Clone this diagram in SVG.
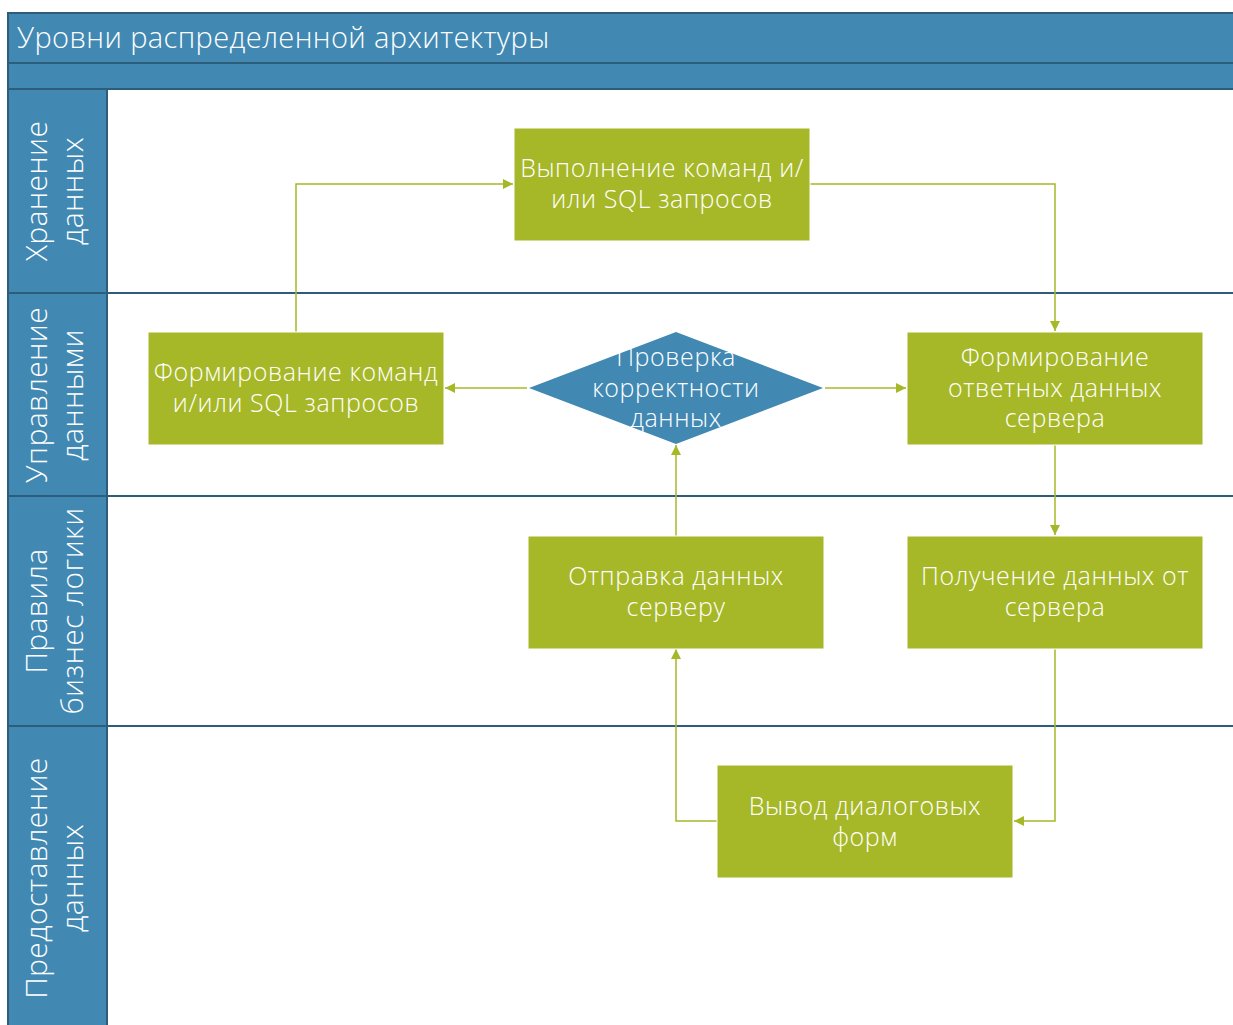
<svg xmlns="http://www.w3.org/2000/svg" width="1233" height="1025" viewBox="0 0 1233 1025">
<defs>
<style>
.band{fill:#4189B3;stroke:#2C5D7A;stroke-width:2}
.sep{stroke:#2C5D7A;stroke-width:2;fill:none}
.box{fill:#A6B828;stroke:#FFFFFF;stroke-width:1}
.dia{fill:#4189B3}
.t{font-family:"Open Sans","Noto Sans",sans-serif;fill:#FFFFFF;text-anchor:middle;font-weight:300}
.nt{font-size:25px;letter-spacing:0.6px}
.lt{font-size:30px;letter-spacing:0.4px}
.conn{fill:none;stroke:#A6B828;stroke-width:1.5}
</style>
<marker id="arr" viewBox="0 0 10 10" refX="10" refY="5" markerWidth="10" markerHeight="10" markerUnits="userSpaceOnUse" orient="auto">
<path d="M0,0 L10,5 L0,10 z" fill="#A6B828"/>
</marker>
</defs>
<rect width="1233" height="1025" fill="#FFFFFF"/>
<g id="frame">
<rect class="band" x="8" y="13" width="1235" height="50"/>
<rect class="band" x="8" y="63" width="1235" height="26"/>
<rect class="band" x="8" y="89" width="99" height="945"/>
<line class="sep" x1="8" y1="293" x2="1235" y2="293"/>
<line class="sep" x1="8" y1="496" x2="1235" y2="496"/>
<line class="sep" x1="8" y1="726" x2="1235" y2="726"/>
<text class="t" x="17" y="48" style="font-size:29px;letter-spacing:0.4px;text-anchor:start">Уровни распределенной архитектуры</text>
</g>
<g id="lane-labels">
<text class="t lt" transform="translate(47,191) rotate(-90)"><tspan x="0" y="0">Хранение</tspan><tspan x="0" y="36">данных</tspan></text>
<text class="t lt" transform="translate(47,395) rotate(-90)"><tspan x="0" y="0">Управление</tspan><tspan x="0" y="36">данными</tspan></text>
<text class="t lt" transform="translate(47,611) rotate(-90)"><tspan x="0" y="0">Правила</tspan><tspan x="0" y="36">бизнес логики</tspan></text>
<text class="t lt" transform="translate(47,878) rotate(-90)"><tspan x="0" y="0">Предоставление</tspan><tspan x="0" y="36">данных</tspan></text>
</g>
<g id="connectors">
<polyline class="conn" points="296,332 296,184 513,184" marker-end="url(#arr)"/>
<polyline class="conn" points="810,184 1055,184 1055,331" marker-end="url(#arr)"/>
<polyline class="conn" points="527,388 445,388" marker-end="url(#arr)"/>
<polyline class="conn" points="825,388 906,388" marker-end="url(#arr)"/>
<polyline class="conn" points="676,536 676,445" marker-end="url(#arr)"/>
<polyline class="conn" points="1055,444 1055,535" marker-end="url(#arr)"/>
<polyline class="conn" points="1055,648 1055,821 1014,821" marker-end="url(#arr)"/>
<polyline class="conn" points="717,821 676,821 676,649" marker-end="url(#arr)"/>
</g>
<g id="n1">
<rect class="box" x="514" y="128" width="296" height="113"/>
<text class="t nt"><tspan x="662" y="177">Выполнение команд и/</tspan><tspan x="662" y="208">или SQL запросов</tspan></text>
</g>
<g id="n2">
<rect class="box" x="148" y="332" width="296" height="113"/>
<text class="t nt"><tspan x="296" y="381">Формирование команд</tspan><tspan x="296" y="412">и/или SQL  запросов</tspan></text>
</g>
<g id="n3">
<polygon class="dia" points="676,332 823,388 676,444 529,388"/>
<text class="t nt"><tspan x="676" y="366">Проверка</tspan><tspan x="676" y="397">корректности</tspan><tspan x="676" y="427">данных</tspan></text>
</g>
<g id="n4">
<rect class="box" x="907" y="332" width="296" height="113"/>
<text class="t nt"><tspan x="1055" y="366">Формирование</tspan><tspan x="1055" y="397">ответных данных</tspan><tspan x="1055" y="427">сервера</tspan></text>
</g>
<g id="n5">
<rect class="box" x="528" y="536" width="296" height="113"/>
<text class="t nt"><tspan x="676" y="585">Отправка данных</tspan><tspan x="676" y="616">серверу</tspan></text>
</g>
<g id="n6">
<rect class="box" x="907" y="536" width="296" height="113"/>
<text class="t nt"><tspan x="1055" y="585">Получение данных от</tspan><tspan x="1055" y="616">сервера</tspan></text>
</g>
<g id="n7">
<rect class="box" x="717" y="765" width="296" height="113"/>
<text class="t nt"><tspan x="865" y="815">Вывод диалоговых</tspan><tspan x="865" y="846">форм</tspan></text>
</g>
</svg>
